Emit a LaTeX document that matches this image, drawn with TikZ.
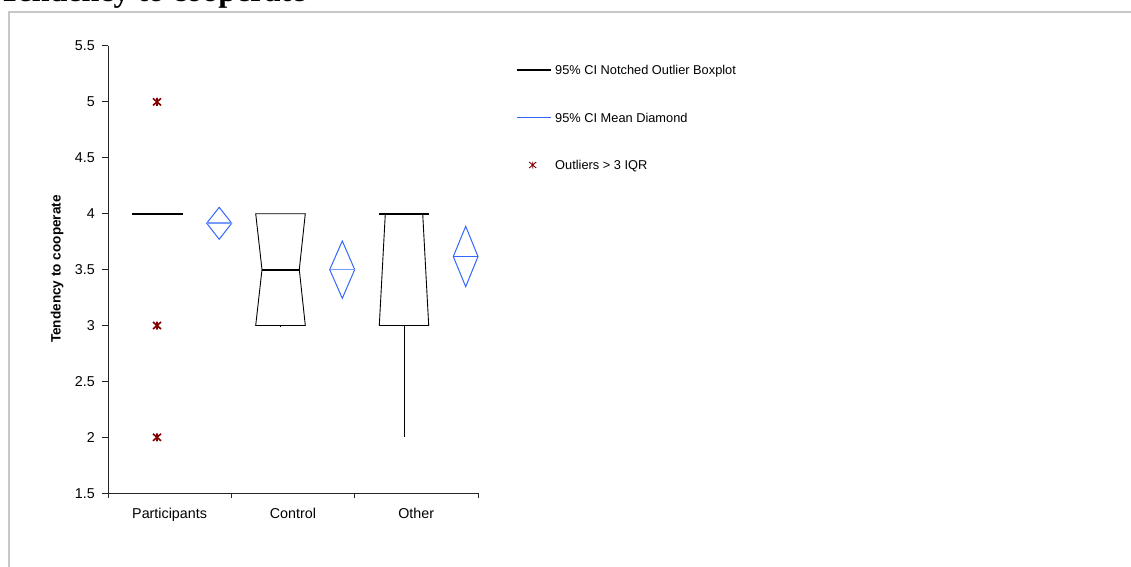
\documentclass[tikz,border=0pt]{standalone}
\usepackage{fontspec}
\setmainfont{Liberation Sans}
\newfontfamily\titlefont{Liberation Serif}
\definecolor{outred}{RGB}{128,0,0}
\definecolor{cidiam}{RGB}{51,102,255}
\definecolor{cilight}{RGB}{120,155,255}
\definecolor{framegray}{RGB}{200,200,200}
\begin{document}
\begin{tikzpicture}[x=1pt,y=1pt,
		boxline/.style={draw=black,line width=0.9pt},
		medline/.style={draw=black,line width=2pt},
		diamline/.style={draw=cidiam,line width=1pt},
		axisline/.style={draw=black!85,line width=1pt},
		ticklab/.style={font=\fontsize{14.3}{17}\selectfont,inner sep=0pt},
		leglab/.style={font=\fontsize{12.8}{15}\selectfont,anchor=base west,inner sep=0pt},
		outlier/.pic={\draw[outred,line width=1.6pt] (-4pt,-3.5pt) -- (4pt,3.5pt) (-4pt,3.5pt) -- (4pt,-3.5pt) (0pt,-4pt) -- (0pt,4pt);},
		legoutlier/.pic={\draw[outred,line width=0.9pt] (-3.5pt,-3pt) -- (3.5pt,3pt) (-3.5pt,3pt) -- (3.5pt,-3pt) (0pt,-3.5pt) -- (0pt,3.5pt);}]
		
		\useasboundingbox (0,0) rectangle (1131,566);
		
		\node[anchor=base west,inner sep=0pt,font=\titlefont\bfseries\fontsize{32}{36}\selectfont] (title) at (-1,564) {Tendency to cooperate};
		
		\draw[framegray,line width=1.6pt] (9,-20) -- (9,554) -- (1150,554);
		
		\begin{scope}[shift={(108,-94.9)},y=111.8pt]
		
		\draw[axisline] (0,5.5) -- (0,1.5) -- (370,1.5);
		
		\draw[axisline] (-6,5.5) -- (0,5.5);
		\draw[axisline] (-6,5) -- (0,5);
		\draw[axisline] (-6,4.5) -- (0,4.5);
		\draw[axisline] (-6,4) -- (0,4);
		\draw[axisline] (-6,3.5) -- (0,3.5);
		\draw[axisline] (-6,3) -- (0,3);
		\draw[axisline] (-6,2.5) -- (0,2.5);
		\draw[axisline] (-6,2) -- (0,2);
		\draw[axisline] (-6,1.5) -- (0,1.5);
		
		\draw[axisline] (0,1.5) -- ++(0pt,-4.5pt);
		\draw[axisline] (123.3,1.5) -- ++(0pt,-4.5pt);
		\draw[axisline] (246.6,1.5) -- ++(0pt,-4.5pt);
		\draw[axisline] (370,1.5) -- ++(0pt,-4.5pt);
		
		\node[ticklab,anchor=east] (t55) at (-13,5.5) {5.5};
		\node[ticklab,anchor=east] (t50) at (-13,5) {5};
		\node[ticklab,anchor=east] (t45) at (-13,4.5) {4.5};
		\node[ticklab,anchor=east] (t40) at (-13,4) {4};
		\node[ticklab,anchor=east] (t35) at (-13,3.5) {3.5};
		\node[ticklab,anchor=east] (t30) at (-13,3) {3};
		\node[ticklab,anchor=east] (t25) at (-13,2.5) {2.5};
		\node[ticklab,anchor=east] (t20) at (-13,2) {2};
		\node[ticklab,anchor=east] (t15) at (-13,1.5) {1.5};
		
		\node[ticklab,anchor=base] (participants) at (61.6,1.272) {Participants};
		\node[ticklab,anchor=base] (control) at (184.9,1.272) {Control};
		\node[ticklab,anchor=base] (other) at (308.2,1.272) {Other};
		
		\node[rotate=90,font=\bfseries\fontsize{13.6}{16}\selectfont] (ylabel) at (-51,3.505) {Tendency to cooperate};
		
		\draw[medline] (24.3,4) -- (74.7,4);
		\pic at (49,5) {outlier};
		\pic at (49,3) {outlier};
		\pic at (49,2) {outlier};
		
		\draw[diamline] (98.7,3.915) -- (111.2,4.057) -- (123.7,3.915) -- (111.2,3.771) -- cycle;
		\draw[cilight,line width=1.6pt] (98.7,3.915) -- (123.7,3.915);
		
		\draw[boxline] (147.7,4) -- (197.3,4) -- (191.3,3.5) -- (197.3,3) -- (147.7,3) -- (154,3.5) -- cycle;
		\draw[medline] (154,3.5) -- (191.3,3.5);
		\draw[boxline] (172.7,3) -- ++(0pt,-1.5pt);
		
		\draw[diamline] (221.7,3.5) -- (234.3,3.756) -- (246.7,3.5) -- (234.3,3.243) -- cycle;
		\draw[cilight,line width=1.6pt] (221.7,3.5) -- (246.7,3.5);
		
		\draw[boxline] (277.3,4) -- (271.3,3) -- (320.7,3) -- (314.7,4);
		\draw[medline] (271,4) -- (321,4);
		\draw[boxline] (296,3) -- (296,2);
		
		\draw[diamline] (345.3,3.617) -- (357.7,3.887) -- (370,3.617) -- (357.7,3.347) -- cycle;
		\draw[diamline] (345.3,3.617) -- (370,3.617);
		
		\end{scope}
		
		\draw[black,line width=1.2pt] (516.7,496) -- (551,496);
		\node[leglab] (legbox) at (555,491.5) {95\% CI Notched Outlier Boxplot};
		
		\draw[cidiam,line width=1.4pt] (516.7,448.3) -- (551,448.3);
		\node[leglab] (legdiam) at (555,443.3) {95\% CI Mean Diamond};
		
		\pic at (532.7,401) {legoutlier};
		\node[leglab] (legout) at (555,397) {Outliers > 3 IQR};
	\end{tikzpicture}
\end{document}
